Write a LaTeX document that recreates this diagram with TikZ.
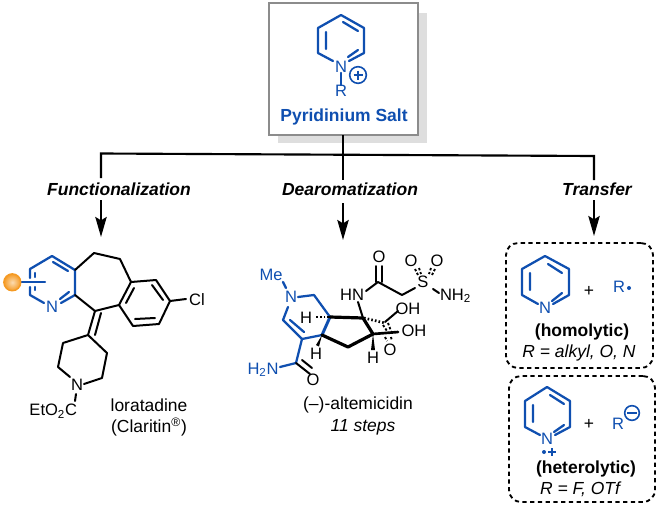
\documentclass[tikz,border=0pt]{standalone}
\usepackage{fontspec}
\setmainfont{Liberation Sans}
\usetikzlibrary{arrows.meta}
\definecolor{chemblue}{HTML}{0F4FB0}
\definecolor{boxgray}{HTML}{8C8C8C}
\definecolor{shadowgray}{HTML}{DEDEDE}
\definecolor{ballorange}{HTML}{F59A23}
\newcommand{\atomfs}{\fontsize{12.4pt}{14pt}\selectfont}
\newcommand{\bodyfs}{\fontsize{13.1pt}{15pt}\selectfont}
\tikzset{
  x=0.75pt,y=-0.75pt,
  txt/.style={inner sep=0pt,outer sep=0pt,font=\bodyfs,text=black},
  atom/.style={inner sep=0pt,outer sep=0pt,font=\atomfs,text=black},
  batom/.style={atom,text=chemblue},
  hd/.style={txt,font=\bodyfs\bfseries\itshape},
  bb/.style={line width=1.5pt,draw=black,line cap=round,line join=round},
  bl/.style={line width=1.7pt,draw=chemblue,line cap=round,line join=round},
  bold/.style={line width=2.4pt,draw=black,line cap=round,line join=round},
  hash/.style={line width=2.2pt,draw=black,dash pattern=on 1.2pt off 1.6pt},
  dotbond/.style={line width=1.4pt,draw=black,dash pattern=on 1.8pt off 1.4pt},
  link/.style={line width=1.6pt,draw=black},
  arr/.style={link,-{Stealth[length=15pt,width=8.5pt,inset=2.5pt]}},
  dbox/.style={draw=black,line width=1.4pt,dash pattern=on 3.2pt off 2.6pt,rounded corners=9pt,inner sep=0pt},
}
\begin{document}
\begin{tikzpicture}
\useasboundingbox (0,0) rectangle (659,507);
% main box
\fill[shadowgray] (278,13) rectangle (427,143);
\draw[boxgray,line width=1.6pt,fill=white] (269,3) rectangle (418,135);
\coordinate (boxS) at (343,135);
% pyridinium
\draw[bl] (333,61) -- (318,53) -- (318,28) -- (341,15) -- (364,28) -- (364,53) -- (349,61);
\draw[bl] (326,32) -- (326,49) (343,22) -- (358,31) (348,57) -- (358,50);
\node[batom] (n1) at (341,67) {N};
\node[batom] (r1) at (341,91) {R};
\draw[bl,line width=1.2pt] (n1.south) -- (r1.north);
\node[circle,draw=chemblue,line width=1.2pt,minimum size=12.5pt,inner sep=0pt] (plus1) at (358,75) {};
\draw[chemblue,line width=1.3pt] (353.5,75) -- (362.5,75) (358,70.5) -- (358,79.5);
\node[txt,text=chemblue,font=\bodyfs\bfseries] (salt) at (344,117) {Pyridinium Salt};
% connectors
\coordinate (jL) at (101,153.5);
\coordinate (jR) at (594,156);
\coordinate (tL) at (101,237);
\coordinate (tM) at (343,240);
\coordinate (tR) at (594,236);
\node[hd] (func) at (119,189) {Functionalization};
\node[hd] (dear) at (350,189) {Dearomatization};
\node[hd] (trans) at (597,189) {Transfer};
\draw[link,line join=miter] (101,178) -- (jL) -- (jR) -- (594,180);
\draw[link] (boxS) -- (343,180);
\draw[arr] (101,200) -- (tL);
\draw[arr] (343,203) -- (tM);
\draw[arr] (594,200) -- (tR);
% loratadine: pyridine part
\draw[bl] (30,278) -- (30,269) -- (52,256) -- (75,270) -- (75,295) -- (61,303);
\draw[bl] (53,262) -- (68,271) (60,299) -- (69,292);
\node[batom] (n2) at (52,307) {N};
\draw[bl] (30,287) -- (30,295) -- (44,303);
\draw[bl] (35,273) -- (35,277) (35,287) -- (35,290);
\draw[bl] (21,282) -- (45,282);
\shade[inner color=ballorange!35,outer color=ballorange,draw=ballorange,line width=1pt] (12.3,282.3) circle[radius=8.5];
% seven ring and benzene
\draw[bb] (75,270) -- (94,253) -- (120,259) -- (131,282) -- (156,280) -- (170,301) -- (159,324) -- (133,326) -- (119,305) -- (131,282);
\draw[bb] (75,295) -- (95,311) -- (119,305);
\draw[bb] (134,288) -- (126,303) (152,285) -- (163,300) (135,319) -- (155,318);
\node[atom] (cl) at (197,300) {Cl};
\draw[bb] (170,301) -- (186,299);
\draw[bb] (95,311) -- (88,335) (101,313) -- (95,335);
\draw[bb] (70,377) -- (58,367) -- (63,343) -- (88,335) -- (107,353) -- (102,378) -- (84,384);
\node[atom] (n3) at (77,385) {N};
\node[atom,anchor=east] (eto) at (77,411) {EtO\textsubscript{2}C};
\draw[bb] (76,394) -- (75,401);
\node[txt] (lor) at (149,405) {loratadine};
\node[txt] (clar) at (149,427) {(Claritin\textsuperscript{®})};
% altemicidin
\node[batom] (me) at (271,275) {Me};
\node[batom] (n4) at (291,297) {N};
\draw[bl] (283,282) -- (286,288);
\draw[bl] (298,297) -- (314,295) -- (330,317);
\draw[bl] (288,307) -- (283,320) -- (302,339) -- (322,335);
\draw[bl,line width=2.2pt] (322,335) -- (330,317);
\draw[bl] (290,320) -- (304,332);
\draw[bl] (302,339) -- (296,363);
\node[batom] (h2n) at (263,370) {H\textsubscript{2}N};
\draw[bl] (280,367) -- (296,363);
\draw[bb] (296,363) -- (310,374) (302,360) -- (312,368);
\node[atom] (o1) at (313,380) {O};
\draw[bold] (330,317) -- (363,318) -- (373,334) -- (348,347) -- (322,335);
\draw[hash] (329,317) -- (315,317);
\node[atom] (h1) at (306,318) {H};
\fill (322,335) -- (316,345) -- (319,346.5) -- cycle;
\node[atom] (h3) at (316,354) {H};
\node[atom] (hn) at (352,295) {HN};
\draw[bb] (358,302) -- (363,318);
\draw[bb] (366,291) -- (378,282) -- (402,295) -- (415,288);
\draw[bb] (376,282) -- (376,266) (382,282) -- (382,266);
\node[atom] (o2) at (379,257) {O};
\node[atom] (s) at (423,282) {S};
\node[atom] (o3) at (411,261) {O};
\node[atom] (o4) at (437,261) {O};
\draw[dotbond] (415,269) -- (418,275) (419,268) -- (421,274);
\draw[dotbond] (431,268) -- (429,274) (435,269) -- (432,275);
\draw[bb] (433,289) -- (439,293);
\node[atom,anchor=west] (nh2) at (440,296) {NH\textsubscript{2}};
\draw[hash,line width=2pt] (364,318) -- (385,323);
\draw[bb] (385,322) -- (398,311);
\node[atom] (oh1) at (408,309) {OH};
\draw[bold,line width=2pt] (373,334) -- (398,332);
\node[atom] (oh2) at (414,331) {OH};
\draw[dotbond] (383,325) -- (387,331) (388,323) -- (391,331) (385,337) -- (387,341) (391,337) -- (392,341);
\node[atom] (o5) at (390,350) {O};
\fill (373,334) -- (371,350) -- (375,350) -- cycle;
\node[atom] (h4) at (373,358) {H};
\node[txt] (alt) at (358,405) {(–)-altemicidin};
\node[txt,font=\bodyfs\itshape] (st) at (363,427) {11 steps};
% transfer box 1
\node[dbox,minimum width=110.25pt,minimum height=93.75pt] (b1) at (579.5,305.5) {};
\draw[bl] (538,304) -- (522,295) -- (522,269) -- (545,256) -- (569,269) -- (569,295) -- (553,304);
\draw[bl] (530,273) -- (530,290) (548,264) -- (562,273) (552,301) -- (562,293);
\node[batom] (n5) at (545,308) {N};
\node[txt] (p1) at (589,291) {+};
\node[batom] (r5) at (619,287) {R};
\fill[chemblue] (629,288) circle[radius=2];
\node[txt,font=\bodyfs\bfseries] (homo) at (582,332) {(homolytic)};
\node[txt,font=\bodyfs\itshape] (ra) at (579,353) {R = alkyl, O, N};
% transfer box 2
\node[dbox,minimum width=109.5pt,minimum height=94.5pt] (b2) at (582,439) {};
\draw[bl] (540,435) -- (525,427) -- (525,401) -- (547,387) -- (570,401) -- (570,427) -- (555,435);
\draw[bl] (533,405) -- (533,422) (550,395) -- (564,404) (554,432) -- (564,425);
\node[batom] (n6) at (547,439) {N};
\fill[chemblue] (544,452) circle[radius=2];
\draw[chemblue,line width=1pt] (548,452) -- (556,452) (552,448) -- (552,456);
\node[txt] (p2) at (589,424) {+};
\node[batom] (r6) at (618,424) {R};
\node[circle,draw=chemblue,line width=1.2pt,minimum size=11pt,inner sep=0pt] (minus) at (632,413) {};
\draw[chemblue,line width=1.4pt] (627,413) -- (637,413);
\node[txt,font=\bodyfs\bfseries] (het) at (586,469) {(heterolytic)};
\node[txt,font=\bodyfs\itshape] (rb) at (580,489) {R = F, OTf};
\end{tikzpicture}
\end{document}
